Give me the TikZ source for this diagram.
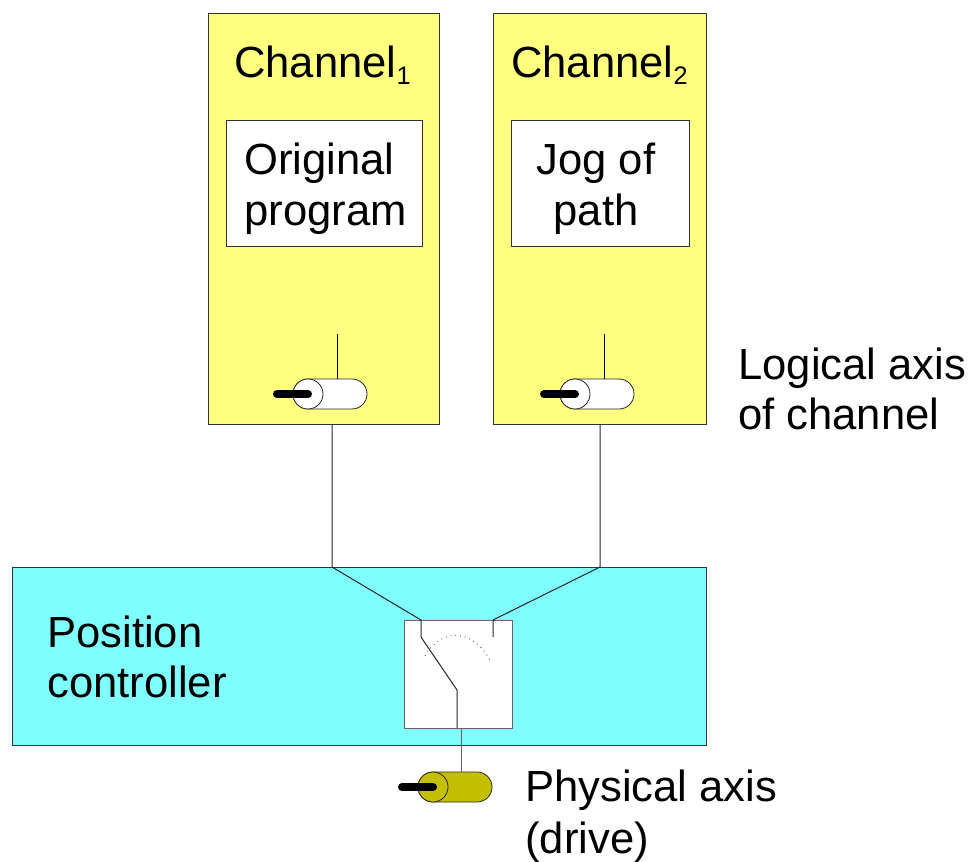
\documentclass[tikz,border=0pt]{standalone}
\usepackage{fontspec}
\setmainfont{Liberation Sans}
\usetikzlibrary{calc}
\definecolor{channel yellow}{HTML}{FFFF80}
\definecolor{controller cyan}{HTML}{80FFFF}
\definecolor{drive olive}{HTML}{C4C000}
\newcommand{\chsub}[1]{{\fontsize{19}{19}\selectfont\raisebox{-5pt}{#1}}}
\tikzstyle{box} = [draw, thin, black!80, inner sep = 0, anchor = north west]
\tikzstyle{label text} = [text = black, inner sep = 0, font = \fontsize{32.7}{37.5}\selectfont]
\tikzstyle{wire} = [draw, black!85, line width = .75pt]
\tikzstyle{axis picture} = [x = .75pt, y = -.75pt]
\tikzset{
    pics/axis symbol/.style = {
        code = {
            \path [draw, black!85, line width = .6pt, fill = #1]
                (0, -15) -- (44, -15) arc (-90 : 90 : 15) -- (0, 15) arc (90 : 270 : 15) -- cycle;
            \path [draw, black!85, line width = .6pt, fill = #1] (0, 0) circle [radius = 15];
            \draw [line width = 6pt, line cap = round] (-31, 0) -- (0, 0);
            \coordinate (-top) at (29, -15);
        }
    }
}
\begin{document}
\begin{tikzpicture}[axis picture]
    \useasboundingbox (0, 0) rectangle (974, 862);

    \node [box, fill = channel yellow, minimum width = 231 * .75pt, minimum height = 411 * .75pt] (channel_1) at (207.5, 13) {};
    \node [box, fill = channel yellow, minimum width = 213 * .75pt, minimum height = 411 * .75pt] (channel_2) at (492.5, 13) {};
    \node [box, fill = white, minimum width = 196 * .75pt, minimum height = 126 * .75pt] (program_1) at (225.5, 120) {};
    \node [box, fill = white, minimum width = 178 * .75pt, minimum height = 126 * .75pt] (program_2) at (510.5, 120) {};
    \node [box, fill = controller cyan, minimum width = 694 * .75pt, minimum height = 178 * .75pt] (controller) at (11.5, 566.5) {};
    \node [box, black!60, line width = .9pt, fill = white, minimum width = 108 * .75pt, minimum height = 108 * .75pt] (switch) at (403.5, 619.5) {};

    \node [label text, anchor = base west] (channel_1_text) at (234, 78) {Channel\chsub{1}};
    \node [label text, anchor = base west] (channel_2_text) at (511, 78) {Channel\chsub{2}};
    \node [label text, anchor = west, align = left] (program_1_text) at (244, 189) {Original\\[.7pt]program};
    \node [label text, anchor = center, align = center] (program_2_text) at (596, 189) {Jog of\\[.7pt]path};
    \node [label text, anchor = west, align = left] (logical_text) at (738, 389) {Logical axis\\of channel};
    \node [label text, anchor = west, align = left] (controller_text) at (47, 657) {Position\\controller};
    \node [label text, anchor = west, align = left] (physical_text) at (525, 816) {Physical axis\\[1.5pt](drive)};

    % sockets on the switch
    \coordinate (switch_in_1) at (421, 620);
    \coordinate (switch_in_2) at (493, 620);
    \coordinate (switch_out) at (457, 728);
    \coordinate (tap_1) at (332, 567);
    \coordinate (tap_2) at (600, 567);

    \foreach \i/\x in {1/308, 2/575}
    {
        \pic (axis_\i) at (\x, 394) {axis symbol = white};
        \coordinate (signal_\i) at ($(axis_\i-top) + (0, -45)$);
        \draw [line width = .6pt] (axis_\i-top) -- (signal_\i);
    }

    \draw [black!80, line width = .6pt, dash pattern = on .6pt off 3pt] (425, 656) .. controls (441, 628) and (473, 627) .. (491, 662);
    \draw [wire] (channel_1.south -| tap_1) -- (tap_1) -- (switch_in_1) -- ++(0, 17) coordinate (blade_top) -- ($(switch_out) + (0, -38)$) coordinate (blade_bottom) -- (switch_out);
    \draw [wire] (channel_2.south -| tap_2) -- (tap_2) -- (switch_in_2) -- ++(0, 17);

    \pic (axis_drive) at (433, 787) {axis symbol = drive olive};
    \coordinate (switch_tap) at (461.5, 728);
    \draw [wire, black!60, line width = 1pt] (switch_tap) -- (switch_tap |- axis_drive-top);
\end{tikzpicture}
\end{document}
